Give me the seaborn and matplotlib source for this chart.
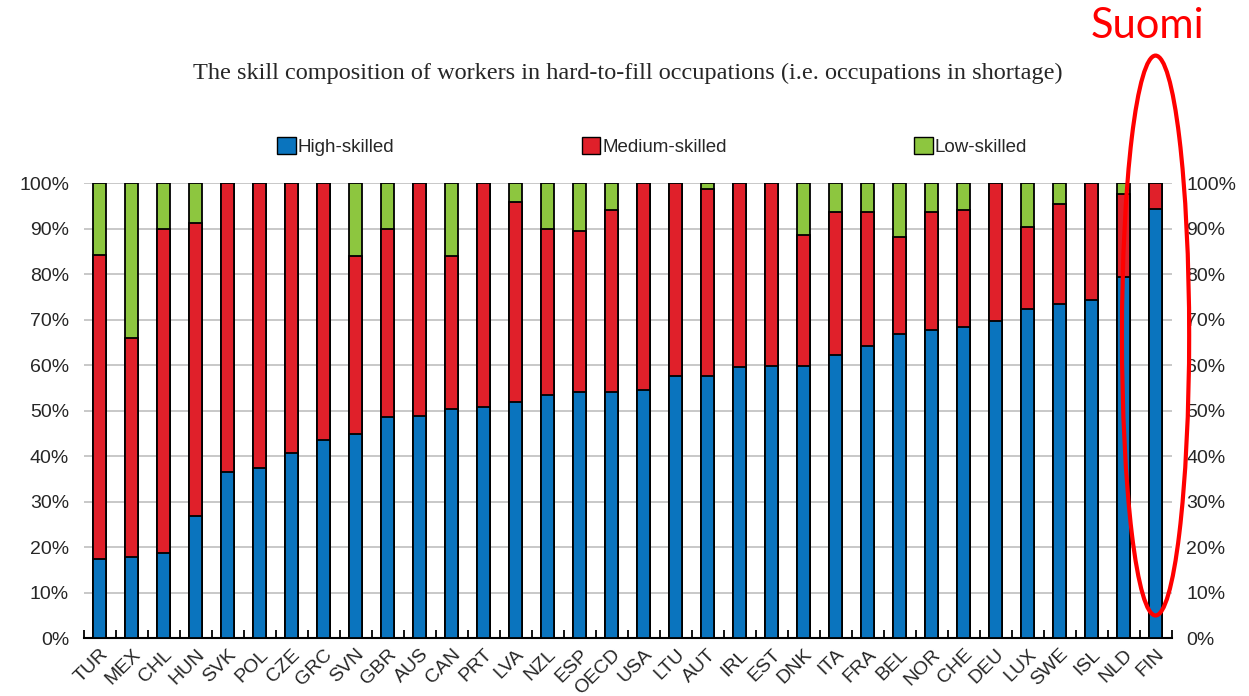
import numpy as np
import pandas as pd
import matplotlib
matplotlib.use("Agg")
import matplotlib.pyplot as plt
from matplotlib.patches import Ellipse, Patch
import seaborn as sns

# Maat ja osuudet (%) luettu kuvasta
maat = ['TUR', 'MEX', 'CHL', 'HUN', 'SVK', 'POL', 'CZE', 'GRC', 'SVN', 'GBR', 'AUS',
        'CAN', 'PRT', 'LVA', 'NZL', 'ESP', 'OECD', 'USA', 'LTU', 'AUT', 'IRL', 'EST',
        'DNK', 'ITA', 'FRA', 'BEL', 'NOR', 'CHE', 'DEU', 'LUX', 'SWE', 'ISL', 'NLD', 'FIN']
korkea = [17.3, 17.8, 18.7, 26.9, 36.6, 37.5, 40.6, 43.5, 44.8, 48.5, 48.9,
          50.3, 50.8, 51.8, 53.5, 54.0, 54.0, 54.5, 57.7, 57.7, 59.5, 59.9,
          59.9, 62.3, 64.2, 66.9, 67.8, 68.4, 69.6, 72.4, 73.4, 74.2, 79.4, 94.4]
# kumulatiivinen yläraja (korkea + keski)
keski_yla = [84.3, 66.0, 89.8, 91.3, 100, 100, 100, 100, 83.9, 89.8, 100,
             83.9, 100, 95.8, 89.8, 89.4, 94.0, 100, 100, 98.6, 100, 100,
             88.5, 93.6, 93.6, 88.1, 93.6, 94.1, 100, 90.3, 95.5, 100, 97.7, 100]

df = pd.DataFrame({'maa': maat, 'korkea': korkea, 'keski_yla': keski_yla})
df['keski'] = df['keski_yla'] - df['korkea']
df['matala'] = 100 - df['keski_yla']
df['yht'] = df['korkea'] + df['keski'] + df['matala']

sininen = '#0A74BE'
punainen = '#E0202A'
vihrea = '#8DC63F'

sns.set_style('white')
plt.rcParams['font.family'] = ['Liberation Sans', 'DejaVu Sans']

fig = plt.figure(figsize=(12.49, 6.96), dpi=100)
ax = fig.add_axes([0.067, 0.083, 0.871, 0.654])

# pinotut pylväät: piirretään kumulatiiviset summat päällekkäin
for sarake, vari in [('yht', vihrea), ('keski_yla', punainen), ('korkea', sininen)]:
    sns.barplot(data=df, x='maa', y=sarake, color=vari, saturation=1, width=0.4,
                edgecolor='black', linewidth=1.3, ax=ax, zorder=3)

ax.set_xlim(-0.5, len(maat) - 0.5)
ax.set_ylim(0, 100)
ax.set_yticks(np.arange(0, 101, 10))
ax.set_yticklabels([f'{v}%' for v in range(0, 101, 10)])
ax.yaxis.grid(True, color='#BFBFBF', linewidth=1.2, zorder=0)
ax.set_xlabel('')
ax.set_ylabel('')
for s in ['left', 'right', 'top']:
    ax.spines[s].set_visible(False)
ax.spines['bottom'].set_color('black')
ax.spines['bottom'].set_linewidth(1.5)

ax.tick_params(axis='y', left=False, right=False, labelleft=True, labelright=True,
               labelsize=14, pad=7)
ax.set_xticks(np.arange(-0.5, len(maat), 1), minor=True)
ax.tick_params(axis='x', which='minor', direction='in', length=6, width=1.3,
               bottom=True, color='black')
ax.tick_params(axis='x', which='major', bottom=False, labelsize=14, pad=2)
plt.setp(ax.get_xticklabels(), rotation=45, ha='right', rotation_mode='anchor')

# otsikko
fig.text(0.503, 0.895, 'The skill composition of workers in hard-to-fill occupations '
         '(i.e. occupations in shortage)', ha='center', va='center',
         fontsize=17.5, family=['Liberation Serif', 'DejaVu Serif'])

# selite
kahvat = [Patch(facecolor=sininen, edgecolor='black', label='High-skilled'),
          Patch(facecolor=punainen, edgecolor='black', label='Medium-skilled'),
          Patch(facecolor=vihrea, edgecolor='black', label='Low-skilled')]
fig.legend(handles=kahvat, ncol=3, loc='center', bbox_to_anchor=(0.522, 0.789),
           frameon=False, fontsize=13.5, handlelength=1.0, handleheight=1.0,
           handletextpad=0.1, columnspacing=10.0)

# Suomi-korostus
ax.add_patch(Ellipse((len(maat) - 1, 66.5), 2.1, 123, fill=False, edgecolor='#FF0000',
                     linewidth=3, clip_on=False, zorder=5))
fig.text(0.919, 0.962, 'Suomi', ha='center', va='center', color='#FF0000',
         fontsize=30, family=['Lato', 'DejaVu Sans'])

fig.savefig('out.png', dpi=100)
